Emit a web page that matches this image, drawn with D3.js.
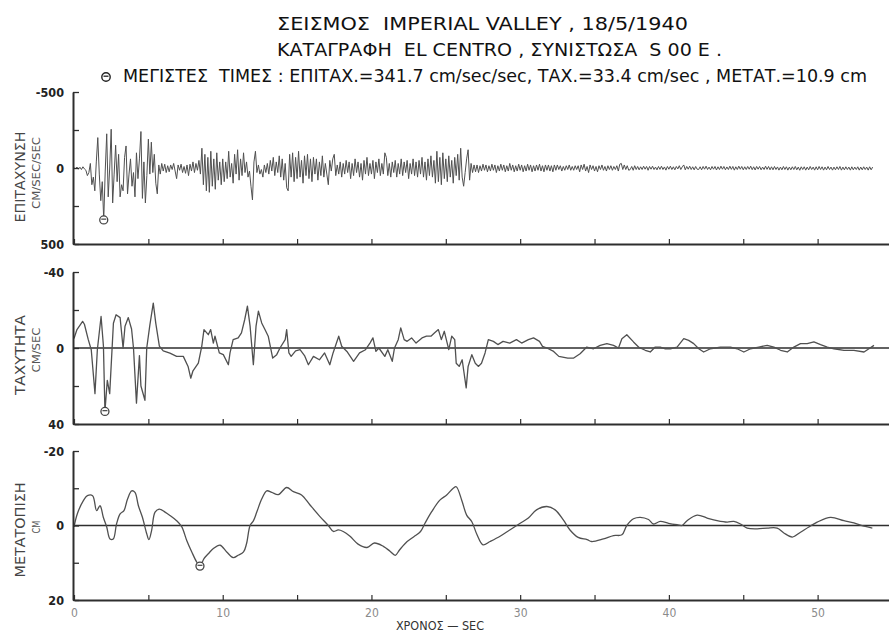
<!DOCTYPE html>
<html>
<head>
<meta charset="utf-8">
<script src="https://cdn.jsdelivr.net/npm/d3@7"></script>
<style>
  html, body { margin: 0; padding: 0; background: #fff; }
  svg { display: block; }
  text { font-family: "DejaVu Sans Condensed", "DejaVu Sans", sans-serif; white-space: pre; }
</style>
</head>
<body>
<svg id="chart" width="889" height="634"></svg>
<script>
// ---- Ground acceleration, cm/sec/sec, sampled every ACC_DT seconds (positive plotted downward) ----
const ACC_DT = 0.1;
const accel = [
  0, 4, -6, 8, -5, 10, -8, 6, 15, 50,
  30, -30, 110, 60, 150, -40, -200, 40, 215, 90,
  341.7, 20, -225, 190, 0, -255, 230, 40, -150, 90,
  -90, 190, 110, 150, -70, -145, 170, 40, -60, 120,
  30, 190, -100, 70, -60, -240, 200, -40, 230, 50,
  -190, 40, -170, 30, -90, 100, 170, -20, 40, -30,
  20, -25, 30, -15, 25, -20, 10, -30, 20, 70,
  -20, 15, -25, 30, -10, 35, -20, 50, -25, 20,
  -40, 30, -30, 15, -50, 40, -130, 110, -90, 150,
  -70, 160, -110, 120, -60, 140, -100, 80, -40, 110,
  -60, 90, -40, 70, -110, 60, -30, 100, -90, 40,
  -120, 80, -60, 50, -100, 30, -40, 60, 20, 120,
  210, -40, -110, 30, -20, 40, 10, 60, -20, 30,
  -30, 40, -50, 20, -70, 50, -40, 30, -80, 60,
  -60, 80, -30, 130, 150, -90, 60, -100, 90, -70,
  70, -110, 60, -50, 100, -80, 50, -90, 70, -60,
  90, -70, 40, -60, 80, -40, 50, -80, 60, -30,
  40, 110, -50, 20, -60, -90, 50, -20, 40, -40,
  60, -30, 40, -50, 30, -40, 70, -30, 50, -60,
  30, -40, 60, -30, 80, -50, 40, -70, 50, -30,
  40, -50, 70, -40, 30, -60, 50, -30, 40, -100,
  -70, 50, -30, 60, -40, 30, -50, 60, -30, 40,
  -60, 50, -40, 30, -50, 70, -30, 40, -60, 50,
  -40, 60, -50, 40, -70, 60, -40, 80, -60, 50,
  -80, 60, -50, 100, -110, 90, -70, 110, -100, 70,
  -60, 90, -80, 60, -50, 100, -70, 50, -90, 80,
  -130, 60, 120, 30, -60, -120, 80, -30, 30, -20,
  25, -20, 30, -15, 20, -25, 15, -20, 25, -15,
  20, -25, 15, -20, 30, -15, 20, -25, 15, -20,
  25, -15, 20, -30, 15, -20, 25, -15, 20, -25,
  15, -20, 25, -15, 20, -25, 15, -20, 25, -15,
  20, -20, 15, -25, 20, -15, 25, -20, 15, -20,
  20, -15, 25, -20, 15, -20, 10, -15, 20, -10,
  15, -15, 10, -20, 15, -10, 15, -15, 10, -15,
  25, -20, 10, -25, 20, -10, 30, -20, 10, -15,
  20, -10, 25, -15, 10, -20, 15, -10, 20, -15,
  10, -15, 15, -10, 10, -15, 20, -25, -30, 10,
  -20, 10, -15, 15, 10, -10, 15, -15, 10, -10,
  12, -8, 10, -12, 8, -10, 15, -10, 8, -12,
  10, -6, 12, -10, 9, -12, 10, -7, 14, -10,
  8, -12, 10, -8, 12, -10, 6, -15, 10, -8,
  -20, 12, -10, 8, -12, 10, -8, 12, -10, 8,
  10, -8, 12, -10, 8, -12, 10, -6, 12, -10,
  8, -10, 13, -8, 10, -12, 8, -10, 12, -7,
  10, -12, 9, -10, 14, -8, 10, -12, 8, -10,
  12, -8, 10, -10, 8, -12, 11, -8, 13, -10,
  8, -10, 12, -6, 10, -12, 9, -10, 12, -8,
  12, -10, 10, -7, 14, -6, 12, -10, 10, -8,
  14, -6, 12, -8, 10, -10, 12, -6, 15, -8,
  10, -8, 14, -6, 12, -10, 10, -6, 14, -8,
  12, -10, 10, -8, 14, -6, 12, -10, 10, -6,
  14, -6, 12, -8, 10, -10, 14, -6, 12, -8,
  10, -6, 14, -8, 12, -6, 10, -8, 14, -6,
  12, -8, 10, -6, 14, -8, 12, -6
];

// ---- Ground velocity, cm/sec : [time sec, value] ----
const velocity = [
  [0, -5], [0.2, -9.7], [0.58, -14], [0.7, -12.5], [0.96, -4.4], [1.16, 0.9], [1.41, 24], [1.57, 0.9],
  [1.82, -16.6], [1.98, -0.9], [2.08, 33.4], [2.24, 17], [2.4, 24], [2.65, -13], [2.83, -17.5], [3.1, -16],
  [3.3, 0], [3.43, -11.5], [3.65, -16], [3.87, -10], [4.0, 0], [4.2, 29], [4.4, 4], [4.5, 20],
  [4.77, 27.5], [4.89, 0], [5.1, -12], [5.33, -23.6], [5.5, -13], [5.74, -1], [6.0, 1.5], [6.45, 2.7],
  [6.9, 4.4], [7.35, 4.4], [7.67, 9.7], [7.85, 15.9], [8.0, 12], [8.36, 8], [8.59, -0.9], [8.74, -9.7],
  [9.03, -7], [9.19, -9.7], [9.37, -2.6], [9.48, -6.2], [9.77, 2.6], [10.04, 3.5], [10.38, 8.8], [10.49, 2.6],
  [10.7, -4.4], [11.04, -5.3], [11.26, -8], [11.48, -15], [11.66, -22], [11.84, -11.5], [12.06, 8.8], [12.24, -11.5],
  [12.4, -19.4], [12.62, -13.2], [12.84, -9.7], [13.06, -6.2], [13.36, 5.3], [13.63, 3.5], [13.85, 0], [14.2, -4.4],
  [14.3, -9.7], [14.45, 2.6], [14.6, 4.4], [14.9, 1.5], [15.2, 0.9], [15.5, 4], [15.76, 8.8], [16.1, 4.4],
  [16.5, 6.2], [16.85, 2.6], [17.2, 8.8], [17.42, 2.6], [17.8, -6.2], [18.0, -0.9], [18.35, 1.8], [18.8, 7],
  [19.2, 2.6], [19.6, 0.9], [19.9, -2.6], [20.1, -5.3], [20.3, 1.8], [20.5, 0], [20.9, 4.4], [21.1, 0.9],
  [21.4, 7], [21.55, 0], [21.8, -4.4], [21.97, -10.6], [22.2, -4.4], [22.4, -3.5], [22.7, -5.3], [23.0, -2.6],
  [23.4, -5.3], [23.7, -6.2], [24.0, -6.2], [24.25, -8], [24.5, -9.7], [24.7, -4.4], [24.9, -8.8], [25.2, 0.9],
  [25.4, -6.2], [25.6, -4.4], [25.7, 8], [25.9, 9.7], [26.1, 6.2], [26.37, 21], [26.5, 9.7], [26.75, 3.5],
  [26.98, 8], [27.2, 9.7], [27.4, 8], [27.64, 2.6], [27.86, -4.4], [28.2, -3.5], [28.5, -1.8], [28.85, -3.5],
  [29.3, -2.6], [29.75, -4.4], [30.1, -2.6], [30.55, -4.4], [30.9, -5.3], [31.3, -3.5], [31.5, -0.9], [31.8, 0],
  [32.25, 1.8], [32.6, 4.4], [33.2, 5.3], [33.6, 5.3], [34.03, 3], [34.48, -0.5], [34.93, 0.4], [35.38, -1.4],
  [35.83, -2.3], [36.28, -1.4], [36.61, 0], [36.84, -4.9], [37.17, -7], [37.62, -3.2], [37.96, -0.5], [38.41, 1.2],
  [38.75, 2.1], [39.08, -0.5], [39.42, -0.5], [39.76, 0.4], [40.1, 0.4], [40.55, -0.5], [41.0, -4.9], [41.33, -4],
  [41.67, -2.3], [42.01, 0.4], [42.34, 2.1], [42.79, 0.4], [43.47, -0.5], [44.14, -0.5], [44.59, 0.4], [45.04, 2.1],
  [45.49, 0.4], [46.05, -0.5], [46.61, -1.4], [47.06, -0.5], [47.51, 1.2], [47.96, 2.1], [48.4, -0.5], [48.85, -2.3],
  [49.3, -2.3], [49.75, -3.2], [50.2, -1.8], [50.65, -0.5], [51.1, 0.4], [51.77, 1.2], [52.44, 1.2], [53.12, 2.1],
  [53.45, 0.4], [53.79, -1.4]
];

// ---- Ground displacement, cm : [time sec, value] ----
const displacement = [
  [0, 0.4], [0.22, -3.1], [0.63, -6.7], [0.9, -8], [1.25, -8], [1.52, -4], [1.75, -5.3], [1.97, -2.2],
  [2.2, 0.4], [2.42, 3.6], [2.64, 3.6], [2.86, -0.4], [3.1, -3.1], [3.36, -4], [3.6, -7.1], [3.88, -9.3],
  [4.1, -8.9], [4.33, -5.3], [4.6, -2.2], [4.89, 2.2], [5.04, 3.8], [5.22, 1.3], [5.45, -3.6], [5.74, -4.4],
  [6.12, -3.6], [6.45, -2.7], [6.9, -1.3], [7.24, 0.3], [7.58, 4], [7.92, 7.1], [8.25, 9.8], [8.47, 10.9],
  [8.74, 8.9], [9.03, 7.6], [9.37, 6.2], [9.82, 5.3], [10.27, 7.1], [10.7, 8.6], [11.04, 8], [11.4, 7.1],
  [11.6, 4.9], [11.84, 0], [12.07, -1.3], [12.29, -3.6], [12.62, -7.1], [12.96, -9.3], [13.3, -8.9], [13.74, -8.3],
  [14.3, -10.2], [14.75, -9.1], [15.3, -8.2], [15.87, -5.5], [16.54, -2.4], [17.1, 0], [17.44, 1.6], [17.77, 1.2],
  [18.1, 1.6], [18.56, 2.9], [19.1, 5], [19.7, 5.9], [20.2, 4.7], [20.8, 5.6], [21.25, 6.9], [21.6, 8],
  [21.9, 6.5], [22.4, 4.3], [22.85, 3], [23.3, 1.6], [23.6, -0.6], [24.05, -3.7], [24.6, -6.8], [25.06, -8.2],
  [25.5, -10], [25.7, -10.4], [26.07, -6.8], [26.4, -2.8], [26.75, -1], [27.1, 2.5], [27.5, 5.2], [27.98, 4.3],
  [28.65, 2.9], [29.3, 1.2], [30, -0.6], [30.55, -2], [31.1, -4.2], [31.8, -5.1], [32.35, -4.2], [32.9, -1.5],
  [33.35, 1.2], [33.9, 3.2], [34.5, 3.8], [34.8, 4.3], [35.6, 3.6], [36.28, 2.7], [36.84, 2.5], [37.17, 0],
  [37.62, -1.8], [38.07, -2.2], [38.63, -1.6], [38.97, -0.4], [39.42, -1.1], [39.98, -0.6], [40.55, -0.2], [40.88, 0],
  [41.22, -1.3], [41.9, -2.8], [42.57, -2], [43.24, -1.3], [43.92, -0.9], [44.37, -1.1], [44.82, -0.4], [45.26, 0.7],
  [45.94, 0.9], [46.61, 0.7], [47.28, 0.7], [47.73, 2], [48.3, 3.1], [48.85, 1.8], [49.41, 0.4], [49.97, -0.9],
  [50.87, -2.2], [51.77, -1.3], [52.44, -0.7], [53.12, 0.2], [53.68, 0.7]
];

// ---- Peak values (marked with a circle) ----
const peakTimes = [2.0, 2.08, 8.47];
const peakValues = [341.7, 33.4, 10.9];

// ---- Text ----
const titleLines = [
  "ΣΕΙΣΜΟΣ  IMPERIAL VALLEY , 18/5/1940",
  "ΚΑΤΑΓΡΑΦΗ  EL CENTRO , ΣΥΝΙΣΤΩΣΑ  S 00 E .",
  "ΜΕΓΙΣΤΕΣ  ΤΙΜΕΣ : ΕΠΙΤΑΧ.=341.7 cm/sec/sec, ΤΑΧ.=33.4 cm/sec , ΜΕΤΑΤ.=10.9 cm"
];
const panelNames = ["ΕΠΙΤΑΧΥΝΣΗ", "ΤΑΧΥΤΗΤΑ", "ΜΕΤΑΤΟΠΙΣΗ"];
const panelUnits = ["CM/SEC/SEC", "CM/SEC", "CM"];
const yLimits = [500, 40, 20];
const xMinorTicks = [0, 5, 10, 15, 20, 25, 30, 35, 40, 45, 50];
const xTickLabels = [0, 10, 20, 30, 40, 50];
const xTitle = "ΧΡΟΝΟΣ — SEC";

// ---- Drawing ----
const svg = d3.select("#chart");
const INK = "#2e2e2e";
const TRACE = "#505050";
const FONT = "\"DejaVu Sans Condensed\", \"DejaVu Sans\", sans-serif";

svg.append("rect").attr("width", 889).attr("height", 634).attr("fill", "#fff");

const axisX = 73;
const x = d3.scaleLinear().domain([0, 54.8]).range([74, 889]);

// panel vertical extents (top = negative limit, bottom = positive limit)
const panelBox = [[92, 244], [272, 424], [451, 600]];
const nameBox = [
  { cx: 25, cy: 177, len: 91, ux: 40, ucy: 173, ulen: 72 },
  { cx: 25, cy: 355, len: 80, ux: 40, ucy: 350, ulen: 45 },
  { cx: 25, cy: 530, len: 95, ux: 40, ucy: 527, ulen: 13 }
];

const series = [
  accel.map((v, i) => [i * ACC_DT, v]),
  velocity,
  displacement
];

panelBox.forEach(([top, bot], p) => {
  const L = yLimits[p];
  const y = d3.scaleLinear().domain([-L, L]).range([top, bot]);
  const g = svg.append("g");

  // zero line (velocity and displacement panels)
  if (p > 0) {
    g.append("line")
      .attr("x1", axisX).attr("x2", 889)
      .attr("y1", y(0)).attr("y2", y(0))
      .attr("stroke", INK).attr("stroke-width", 1.4);
  }

  // trace
  const line = d3.line()
    .x(d => x(d[0]))
    .y(d => y(d[1]))
    .curve(p === 2 ? d3.curveCatmullRom.alpha(0.5) : d3.curveLinear);
  g.append("path")
    .datum(series[p])
    .attr("d", line)
    .attr("fill", "none")
    .attr("stroke", TRACE)
    .attr("stroke-width", p === 0 ? 1.0 : 1.3)
    .attr("stroke-linejoin", "round");

  // left axis
  const yAxis = d3.axisLeft(y)
    .tickValues([-L, -L / 2, 0, L / 2, L])
    .tickSize(-6)
    .tickSizeOuter(0)
    .tickPadding(9)
    .tickFormat(d => (d === -L || d === 0 || d === L) ? String(d) : "");
  const ya = g.append("g").attr("transform", `translate(${axisX},0)`).call(yAxis);
  ya.select(".domain").attr("stroke", INK).attr("stroke-width", 2);
  ya.selectAll(".tick line").attr("stroke", INK).attr("stroke-width", 1.3);
  ya.selectAll(".tick text")
    .attr("fill", "#222")
    .attr("font-size", 12.5)
    .attr("font-weight", "bold")
    .attr("font-family", FONT);

  // bottom axis
  const xAxis = d3.axisBottom(x)
    .tickValues(xMinorTicks)
    .tickSize(-5)
    .tickSizeOuter(0)
    .tickPadding(8)
    .tickFormat(d => (p === 2 && xTickLabels.includes(d)) ? String(d) : "");
  const xa = g.append("g").attr("transform", `translate(0,${bot})`).call(xAxis);
  xa.select(".domain").attr("stroke", INK).attr("stroke-width", 2);
  xa.selectAll(".tick line").attr("stroke", INK).attr("stroke-width", 1.2);
  xa.selectAll(".tick text")
    .attr("fill", "#8a8a8a")
    .attr("font-size", 12)
    .attr("font-family", FONT);

  // peak marker
  const mx = x(peakTimes[p]), my = y(peakValues[p]);
  g.append("circle").attr("cx", mx).attr("cy", my).attr("r", 4)
    .attr("fill", "#fff").attr("stroke", "#444").attr("stroke-width", 1.3);
  g.append("line").attr("x1", mx - 2.5).attr("x2", mx + 2.5)
    .attr("y1", my - 0.8).attr("y2", my - 0.8)
    .attr("stroke", "#444").attr("stroke-width", 1.2);

  // rotated quantity name and unit
  const nb = nameBox[p];
  g.append("text")
    .attr("transform", `translate(${nb.cx},${nb.cy}) rotate(-90)`)
    .attr("text-anchor", "middle")
    .attr("font-size", 13.5)
    .attr("fill", "#444")
    .attr("textLength", nb.len).attr("lengthAdjust", "spacingAndGlyphs")
    .text(panelNames[p]);
  g.append("text")
    .attr("transform", `translate(${nb.ux},${nb.ucy}) rotate(-90)`)
    .attr("text-anchor", "middle")
    .attr("font-size", 11)
    .attr("fill", "#555")
    .attr("textLength", nb.ulen).attr("lengthAdjust", "spacingAndGlyphs")
    .text(panelUnits[p]);
});

// title block
const titleSpec = [
  { x: 277, y: 30, len: 411 },
  { x: 277, y: 56, len: 445 },
  { x: 123, y: 82, len: 744 }
];
titleLines.forEach((t, i) => {
  svg.append("text")
    .attr("x", titleSpec[i].x).attr("y", titleSpec[i].y)
    .attr("font-size", 17.5)
    .attr("fill", "#111")
    .attr("textLength", titleSpec[i].len).attr("lengthAdjust", "spacingAndGlyphs")
    .text(t);
});
// circle symbol before the peak-values line
svg.append("circle").attr("cx", 106).attr("cy", 77).attr("r", 4.2)
  .attr("fill", "#fff").attr("stroke", "#222").attr("stroke-width", 1.4);
svg.append("line").attr("x1", 103.5).attr("x2", 108.5).attr("y1", 76.2).attr("y2", 76.2)
  .attr("stroke", "#222").attr("stroke-width", 1.3);

// time axis title
svg.append("text")
  .attr("x", 440).attr("y", 630)
  .attr("text-anchor", "middle")
  .attr("font-size", 12.5)
  .attr("fill", "#333")
  .text(xTitle);
</script>
</body>
</html>
